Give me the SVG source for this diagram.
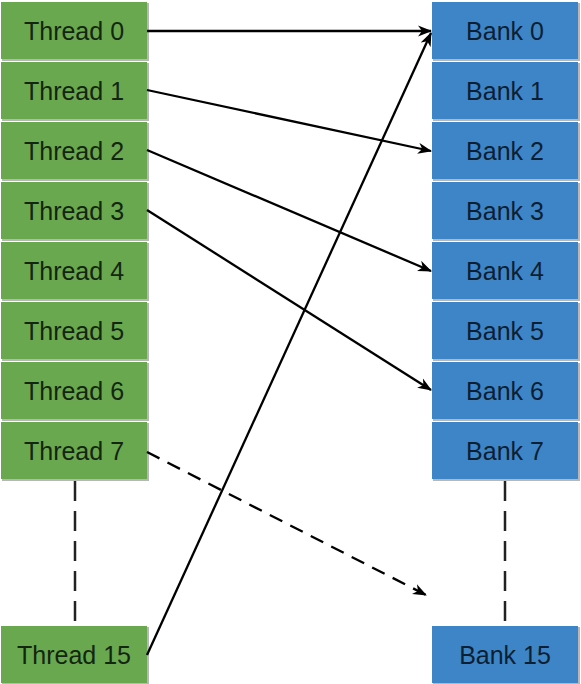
<svg xmlns="http://www.w3.org/2000/svg" width="581" height="684" viewBox="0 0 581 684">
<defs>
<style>
.t{fill:#6aa84f;}
.b{fill:#3d85c6;}
.sh{fill:#b7b7b7;}
text{font-family:"Liberation Sans",Arial,sans-serif;font-size:25px;text-anchor:middle;}
#threads text{fill:#132611;}
#banks text{fill:#0d1f33;}
.c{stroke:#000;stroke-width:2.3;fill:none;}
.d{stroke-dasharray:14 9;}
.v{stroke:#222;stroke-width:2.5;stroke-dasharray:20 10;fill:none;}
</style>
<marker id="ah" viewBox="0 0 14 12" refX="13" refY="6" markerWidth="14" markerHeight="12" markerUnits="userSpaceOnUse" orient="auto">
<path d="M0,0.5 L14,6 L0,11.5 L4,6 z" fill="#000"/>
</marker>
</defs>
<rect width="581" height="684" fill="#fff"/>
<g id="threads">
<g id="thread0"><rect class="sh" x="2" y="3" width="147" height="58"/><rect class="t" x="1" y="2" width="146" height="57"/><text x="74" y="40">Thread 0</text></g>
<g id="thread1"><rect class="sh" x="2" y="63" width="147" height="58"/><rect class="t" x="1" y="62" width="146" height="57"/><text x="74" y="100">Thread 1</text></g>
<g id="thread2"><rect class="sh" x="2" y="123" width="147" height="58"/><rect class="t" x="1" y="122" width="146" height="57"/><text x="74" y="160">Thread 2</text></g>
<g id="thread3"><rect class="sh" x="2" y="183" width="147" height="58"/><rect class="t" x="1" y="182" width="146" height="57"/><text x="74" y="220">Thread 3</text></g>
<g id="thread4"><rect class="sh" x="2" y="243" width="147" height="58"/><rect class="t" x="1" y="242" width="146" height="57"/><text x="74" y="280">Thread 4</text></g>
<g id="thread5"><rect class="sh" x="2" y="303" width="147" height="58"/><rect class="t" x="1" y="302" width="146" height="57"/><text x="74" y="340">Thread 5</text></g>
<g id="thread6"><rect class="sh" x="2" y="363" width="147" height="58"/><rect class="t" x="1" y="362" width="146" height="57"/><text x="74" y="400">Thread 6</text></g>
<g id="thread7"><rect class="sh" x="2" y="423" width="147" height="58"/><rect class="t" x="1" y="422" width="146" height="57"/><text x="74" y="460">Thread 7</text></g>
<g id="thread15"><rect class="sh" x="2" y="627" width="147" height="57"/><rect class="t" x="1" y="626" width="146" height="57"/><text x="74" y="664">Thread 15</text></g>
</g>
<g id="banks">
<g id="bank0"><rect class="sh" x="433" y="3" width="147" height="58"/><rect class="b" x="432" y="2" width="146" height="57"/><text x="505" y="40">Bank 0</text></g>
<g id="bank1"><rect class="sh" x="433" y="63" width="147" height="58"/><rect class="b" x="432" y="62" width="146" height="57"/><text x="505" y="100">Bank 1</text></g>
<g id="bank2"><rect class="sh" x="433" y="123" width="147" height="58"/><rect class="b" x="432" y="122" width="146" height="57"/><text x="505" y="160">Bank 2</text></g>
<g id="bank3"><rect class="sh" x="433" y="183" width="147" height="58"/><rect class="b" x="432" y="182" width="146" height="57"/><text x="505" y="220">Bank 3</text></g>
<g id="bank4"><rect class="sh" x="433" y="243" width="147" height="58"/><rect class="b" x="432" y="242" width="146" height="57"/><text x="505" y="280">Bank 4</text></g>
<g id="bank5"><rect class="sh" x="433" y="303" width="147" height="58"/><rect class="b" x="432" y="302" width="146" height="57"/><text x="505" y="340">Bank 5</text></g>
<g id="bank6"><rect class="sh" x="433" y="363" width="147" height="58"/><rect class="b" x="432" y="362" width="146" height="57"/><text x="505" y="400">Bank 6</text></g>
<g id="bank7"><rect class="sh" x="433" y="423" width="147" height="58"/><rect class="b" x="432" y="422" width="146" height="57"/><text x="505" y="460">Bank 7</text></g>
<g id="bank15"><rect class="sh" x="433" y="627" width="147" height="57"/><rect class="b" x="432" y="626" width="146" height="57"/><text x="505" y="664">Bank 15</text></g>
</g>
<g id="connectors">
<line class="v" x1="75" y1="481" x2="75" y2="622"/>
<line class="v" x1="505" y1="481" x2="505" y2="622"/>
<line class="c" x1="147" y1="31" x2="431" y2="31" marker-end="url(#ah)"/>
<line class="c" x1="147" y1="90" x2="431" y2="151" marker-end="url(#ah)"/>
<line class="c" x1="147" y1="150" x2="431" y2="271" marker-end="url(#ah)"/>
<line class="c" x1="147" y1="210" x2="431" y2="390" marker-end="url(#ah)"/>
<line class="c d" x1="147" y1="452" x2="426" y2="595" marker-end="url(#ah)"/>
<line class="c" x1="147" y1="655" x2="431" y2="33" marker-end="url(#ah)"/>
</g>
</svg>
